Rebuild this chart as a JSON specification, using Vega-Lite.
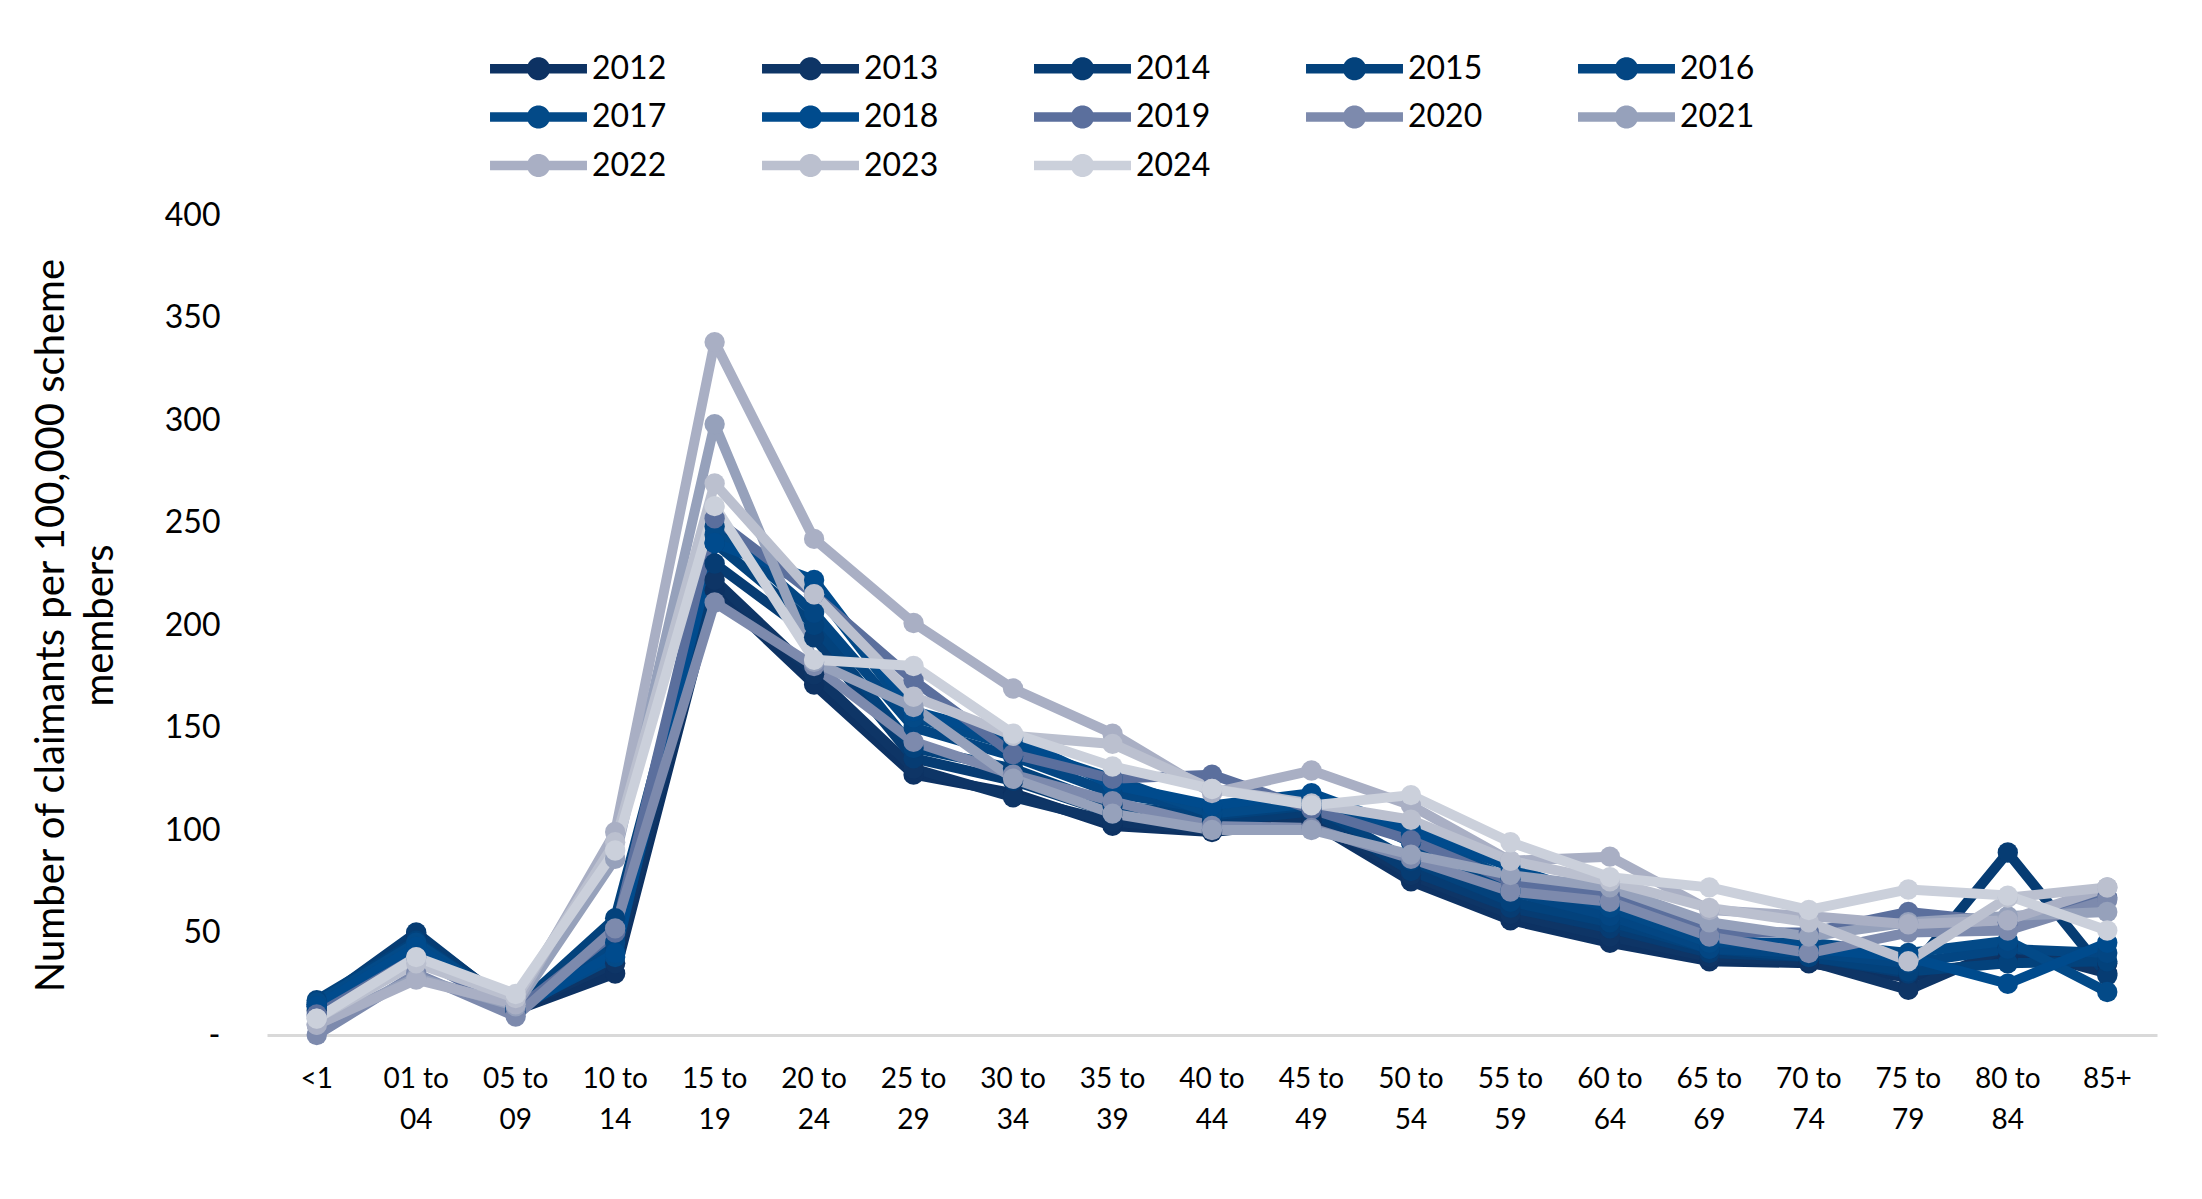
{
  "$schema": "https://vega.github.io/schema/vega-lite/v6.json",
  "width": 1890,
  "height": 820,
  "autosize": {"type": "none"},
  "padding": {"left": 267, "top": 215, "right": 45, "bottom": 164},
  "config": {"view": {"stroke": null}, "font": "Lato"},
  "data": {
    "values": [
      {"year": "2012", "age": "<1", "v": 12}, {"year": "2012", "age": "01 to 04", "v": 48}, {"year": "2012", "age": "05 to 09", "v": 12}, {"year": "2012", "age": "10 to 14", "v": 30}, {"year": "2012", "age": "15 to 19", "v": 217}, {"year": "2012", "age": "20 to 24", "v": 171}, {"year": "2012", "age": "25 to 29", "v": 127}, {"year": "2012", "age": "30 to 34", "v": 118}, {"year": "2012", "age": "35 to 39", "v": 102}, {"year": "2012", "age": "40 to 44", "v": 99}, {"year": "2012", "age": "45 to 49", "v": 104}, {"year": "2012", "age": "50 to 54", "v": 75}, {"year": "2012", "age": "55 to 59", "v": 56}, {"year": "2012", "age": "60 to 64", "v": 45}, {"year": "2012", "age": "65 to 69", "v": 36}, {"year": "2012", "age": "70 to 74", "v": 35}, {"year": "2012", "age": "75 to 79", "v": 28}, {"year": "2012", "age": "80 to 84", "v": 38}, {"year": "2012", "age": "85+", "v": 35},
      {"year": "2013", "age": "<1", "v": 14}, {"year": "2013", "age": "01 to 04", "v": 49}, {"year": "2013", "age": "05 to 09", "v": 13}, {"year": "2013", "age": "10 to 14", "v": 35}, {"year": "2013", "age": "15 to 19", "v": 222}, {"year": "2013", "age": "20 to 24", "v": 176}, {"year": "2013", "age": "25 to 29", "v": 130}, {"year": "2013", "age": "30 to 34", "v": 116}, {"year": "2013", "age": "35 to 39", "v": 104}, {"year": "2013", "age": "40 to 44", "v": 100}, {"year": "2013", "age": "45 to 49", "v": 106}, {"year": "2013", "age": "50 to 54", "v": 78}, {"year": "2013", "age": "55 to 59", "v": 59}, {"year": "2013", "age": "60 to 64", "v": 48}, {"year": "2013", "age": "65 to 69", "v": 38}, {"year": "2013", "age": "70 to 74", "v": 36}, {"year": "2013", "age": "75 to 79", "v": 22}, {"year": "2013", "age": "80 to 84", "v": 43}, {"year": "2013", "age": "85+", "v": 30},
      {"year": "2014", "age": "<1", "v": 15}, {"year": "2014", "age": "01 to 04", "v": 50}, {"year": "2014", "age": "05 to 09", "v": 12}, {"year": "2014", "age": "10 to 14", "v": 41}, {"year": "2014", "age": "15 to 19", "v": 230}, {"year": "2014", "age": "20 to 24", "v": 194}, {"year": "2014", "age": "25 to 29", "v": 135}, {"year": "2014", "age": "30 to 34", "v": 124}, {"year": "2014", "age": "35 to 39", "v": 108}, {"year": "2014", "age": "40 to 44", "v": 104}, {"year": "2014", "age": "45 to 49", "v": 109}, {"year": "2014", "age": "50 to 54", "v": 80}, {"year": "2014", "age": "55 to 59", "v": 62}, {"year": "2014", "age": "60 to 64", "v": 52}, {"year": "2014", "age": "65 to 69", "v": 40}, {"year": "2014", "age": "70 to 74", "v": 38}, {"year": "2014", "age": "75 to 79", "v": 30}, {"year": "2014", "age": "80 to 84", "v": 89}, {"year": "2014", "age": "85+", "v": 29},
      {"year": "2015", "age": "<1", "v": 17}, {"year": "2015", "age": "01 to 04", "v": 46}, {"year": "2015", "age": "05 to 09", "v": 13}, {"year": "2015", "age": "10 to 14", "v": 57}, {"year": "2015", "age": "15 to 19", "v": 240}, {"year": "2015", "age": "20 to 24", "v": 200}, {"year": "2015", "age": "25 to 29", "v": 140}, {"year": "2015", "age": "30 to 34", "v": 130}, {"year": "2015", "age": "35 to 39", "v": 112}, {"year": "2015", "age": "40 to 44", "v": 107}, {"year": "2015", "age": "45 to 49", "v": 112}, {"year": "2015", "age": "50 to 54", "v": 85}, {"year": "2015", "age": "55 to 59", "v": 65}, {"year": "2015", "age": "60 to 64", "v": 55}, {"year": "2015", "age": "65 to 69", "v": 42}, {"year": "2015", "age": "70 to 74", "v": 38}, {"year": "2015", "age": "75 to 79", "v": 31}, {"year": "2015", "age": "80 to 84", "v": 35}, {"year": "2015", "age": "85+", "v": 36},
      {"year": "2016", "age": "<1", "v": 15}, {"year": "2016", "age": "01 to 04", "v": 44}, {"year": "2016", "age": "05 to 09", "v": 12}, {"year": "2016", "age": "10 to 14", "v": 45}, {"year": "2016", "age": "15 to 19", "v": 248}, {"year": "2016", "age": "20 to 24", "v": 206}, {"year": "2016", "age": "25 to 29", "v": 150}, {"year": "2016", "age": "30 to 34", "v": 136}, {"year": "2016", "age": "35 to 39", "v": 118}, {"year": "2016", "age": "40 to 44", "v": 110}, {"year": "2016", "age": "45 to 49", "v": 116}, {"year": "2016", "age": "50 to 54", "v": 94}, {"year": "2016", "age": "55 to 59", "v": 70}, {"year": "2016", "age": "60 to 64", "v": 58}, {"year": "2016", "age": "65 to 69", "v": 42}, {"year": "2016", "age": "70 to 74", "v": 40}, {"year": "2016", "age": "75 to 79", "v": 35}, {"year": "2016", "age": "80 to 84", "v": 42}, {"year": "2016", "age": "85+", "v": 40},
      {"year": "2017", "age": "<1", "v": 16}, {"year": "2017", "age": "01 to 04", "v": 45}, {"year": "2017", "age": "05 to 09", "v": 13}, {"year": "2017", "age": "10 to 14", "v": 38}, {"year": "2017", "age": "15 to 19", "v": 244}, {"year": "2017", "age": "20 to 24", "v": 218}, {"year": "2017", "age": "25 to 29", "v": 155}, {"year": "2017", "age": "30 to 34", "v": 141}, {"year": "2017", "age": "35 to 39", "v": 125}, {"year": "2017", "age": "40 to 44", "v": 108}, {"year": "2017", "age": "45 to 49", "v": 113}, {"year": "2017", "age": "50 to 54", "v": 98}, {"year": "2017", "age": "55 to 59", "v": 76}, {"year": "2017", "age": "60 to 64", "v": 62}, {"year": "2017", "age": "65 to 69", "v": 45}, {"year": "2017", "age": "70 to 74", "v": 45}, {"year": "2017", "age": "75 to 79", "v": 40}, {"year": "2017", "age": "80 to 84", "v": 46}, {"year": "2017", "age": "85+", "v": 21},
      {"year": "2018", "age": "<1", "v": 14}, {"year": "2018", "age": "01 to 04", "v": 43}, {"year": "2018", "age": "05 to 09", "v": 12}, {"year": "2018", "age": "10 to 14", "v": 40}, {"year": "2018", "age": "15 to 19", "v": 240}, {"year": "2018", "age": "20 to 24", "v": 222}, {"year": "2018", "age": "25 to 29", "v": 158}, {"year": "2018", "age": "30 to 34", "v": 145}, {"year": "2018", "age": "35 to 39", "v": 122}, {"year": "2018", "age": "40 to 44", "v": 112}, {"year": "2018", "age": "45 to 49", "v": 118}, {"year": "2018", "age": "50 to 54", "v": 100}, {"year": "2018", "age": "55 to 59", "v": 82}, {"year": "2018", "age": "60 to 64", "v": 65}, {"year": "2018", "age": "65 to 69", "v": 48}, {"year": "2018", "age": "70 to 74", "v": 42}, {"year": "2018", "age": "75 to 79", "v": 38}, {"year": "2018", "age": "80 to 84", "v": 25}, {"year": "2018", "age": "85+", "v": 45},
      {"year": "2019", "age": "<1", "v": 10}, {"year": "2019", "age": "01 to 04", "v": 38}, {"year": "2019", "age": "05 to 09", "v": 12}, {"year": "2019", "age": "10 to 14", "v": 50}, {"year": "2019", "age": "15 to 19", "v": 252}, {"year": "2019", "age": "20 to 24", "v": 215}, {"year": "2019", "age": "25 to 29", "v": 173}, {"year": "2019", "age": "30 to 34", "v": 137}, {"year": "2019", "age": "35 to 39", "v": 125}, {"year": "2019", "age": "40 to 44", "v": 127}, {"year": "2019", "age": "45 to 49", "v": 110}, {"year": "2019", "age": "50 to 54", "v": 95}, {"year": "2019", "age": "55 to 59", "v": 75}, {"year": "2019", "age": "60 to 64", "v": 68}, {"year": "2019", "age": "65 to 69", "v": 50}, {"year": "2019", "age": "70 to 74", "v": 50}, {"year": "2019", "age": "75 to 79", "v": 60}, {"year": "2019", "age": "80 to 84", "v": 55}, {"year": "2019", "age": "85+", "v": 67},
      {"year": "2020", "age": "<1", "v": 0}, {"year": "2020", "age": "01 to 04", "v": 30}, {"year": "2020", "age": "05 to 09", "v": 9}, {"year": "2020", "age": "10 to 14", "v": 52}, {"year": "2020", "age": "15 to 19", "v": 211}, {"year": "2020", "age": "20 to 24", "v": 180}, {"year": "2020", "age": "25 to 29", "v": 143}, {"year": "2020", "age": "30 to 34", "v": 127}, {"year": "2020", "age": "35 to 39", "v": 114}, {"year": "2020", "age": "40 to 44", "v": 102}, {"year": "2020", "age": "45 to 49", "v": 101}, {"year": "2020", "age": "50 to 54", "v": 86}, {"year": "2020", "age": "55 to 59", "v": 70}, {"year": "2020", "age": "60 to 64", "v": 65}, {"year": "2020", "age": "65 to 69", "v": 48}, {"year": "2020", "age": "70 to 74", "v": 40}, {"year": "2020", "age": "75 to 79", "v": 50}, {"year": "2020", "age": "80 to 84", "v": 51}, {"year": "2020", "age": "85+", "v": 66},
      {"year": "2021", "age": "<1", "v": 5}, {"year": "2021", "age": "01 to 04", "v": 28}, {"year": "2021", "age": "05 to 09", "v": 14}, {"year": "2021", "age": "10 to 14", "v": 86}, {"year": "2021", "age": "15 to 19", "v": 298}, {"year": "2021", "age": "20 to 24", "v": 182}, {"year": "2021", "age": "25 to 29", "v": 160}, {"year": "2021", "age": "30 to 34", "v": 125}, {"year": "2021", "age": "35 to 39", "v": 108}, {"year": "2021", "age": "40 to 44", "v": 100}, {"year": "2021", "age": "45 to 49", "v": 100}, {"year": "2021", "age": "50 to 54", "v": 88}, {"year": "2021", "age": "55 to 59", "v": 78}, {"year": "2021", "age": "60 to 64", "v": 72}, {"year": "2021", "age": "65 to 69", "v": 55}, {"year": "2021", "age": "70 to 74", "v": 48}, {"year": "2021", "age": "75 to 79", "v": 55}, {"year": "2021", "age": "80 to 84", "v": 58}, {"year": "2021", "age": "85+", "v": 60},
      {"year": "2022", "age": "<1", "v": 5}, {"year": "2022", "age": "01 to 04", "v": 27}, {"year": "2022", "age": "05 to 09", "v": 15}, {"year": "2022", "age": "10 to 14", "v": 99}, {"year": "2022", "age": "15 to 19", "v": 338}, {"year": "2022", "age": "20 to 24", "v": 242}, {"year": "2022", "age": "25 to 29", "v": 201}, {"year": "2022", "age": "30 to 34", "v": 169}, {"year": "2022", "age": "35 to 39", "v": 147}, {"year": "2022", "age": "40 to 44", "v": 118}, {"year": "2022", "age": "45 to 49", "v": 129}, {"year": "2022", "age": "50 to 54", "v": 112}, {"year": "2022", "age": "55 to 59", "v": 85}, {"year": "2022", "age": "60 to 64", "v": 87}, {"year": "2022", "age": "65 to 69", "v": 61}, {"year": "2022", "age": "70 to 74", "v": 58}, {"year": "2022", "age": "75 to 79", "v": 54}, {"year": "2022", "age": "80 to 84", "v": 56}, {"year": "2022", "age": "85+", "v": 72},
      {"year": "2023", "age": "<1", "v": 8}, {"year": "2023", "age": "01 to 04", "v": 35}, {"year": "2023", "age": "05 to 09", "v": 18}, {"year": "2023", "age": "10 to 14", "v": 94}, {"year": "2023", "age": "15 to 19", "v": 269}, {"year": "2023", "age": "20 to 24", "v": 215}, {"year": "2023", "age": "25 to 29", "v": 165}, {"year": "2023", "age": "30 to 34", "v": 146}, {"year": "2023", "age": "35 to 39", "v": 142}, {"year": "2023", "age": "40 to 44", "v": 120}, {"year": "2023", "age": "45 to 49", "v": 113}, {"year": "2023", "age": "50 to 54", "v": 105}, {"year": "2023", "age": "55 to 59", "v": 85}, {"year": "2023", "age": "60 to 64", "v": 75}, {"year": "2023", "age": "65 to 69", "v": 62}, {"year": "2023", "age": "70 to 74", "v": 55}, {"year": "2023", "age": "75 to 79", "v": 36}, {"year": "2023", "age": "80 to 84", "v": 67}, {"year": "2023", "age": "85+", "v": 72},
      {"year": "2024", "age": "<1", "v": 8}, {"year": "2024", "age": "01 to 04", "v": 38}, {"year": "2024", "age": "05 to 09", "v": 20}, {"year": "2024", "age": "10 to 14", "v": 90}, {"year": "2024", "age": "15 to 19", "v": 258}, {"year": "2024", "age": "20 to 24", "v": 183}, {"year": "2024", "age": "25 to 29", "v": 180}, {"year": "2024", "age": "30 to 34", "v": 147}, {"year": "2024", "age": "35 to 39", "v": 131}, {"year": "2024", "age": "40 to 44", "v": 120}, {"year": "2024", "age": "45 to 49", "v": 112}, {"year": "2024", "age": "50 to 54", "v": 117}, {"year": "2024", "age": "55 to 59", "v": 94}, {"year": "2024", "age": "60 to 64", "v": 77}, {"year": "2024", "age": "65 to 69", "v": 72}, {"year": "2024", "age": "70 to 74", "v": 61}, {"year": "2024", "age": "75 to 79", "v": 71}, {"year": "2024", "age": "80 to 84", "v": 68}, {"year": "2024", "age": "85+", "v": 51}
    ]
  },
  "encoding": {
    "x": {
      "field": "age",
      "type": "nominal",
      "sort": null,
      "scale": {"type": "band", "paddingInner": 0, "paddingOuter": 0},
      "axis": {
        "title": null,
        "labelAngle": 0,
        "labelFont": "Lato",
        "labelFontSize": 28,
        "labelColor": "#000000",
        "labelLineHeight": 41,
        "labelPadding": 30,
        "labelExpr": "length(split(datum.label, ' to ')) > 1 ? [split(datum.label, ' to ')[0] + ' to', split(datum.label, ' to ')[1]] : datum.label",
        "ticks": false,
        "grid": false,
        "domainColor": "#d9d9d9",
        "domainWidth": 3
      }
    },
    "y": {
      "field": "v",
      "type": "quantitative",
      "scale": {"domain": [0, 400], "nice": false},
      "axis": {
        "title": ["Number of claimants per 100,000 scheme", "members"],
        "titleFont": "Lato",
        "titleFontSize": 40,
        "titleFontWeight": "normal",
        "titleColor": "#000000",
        "titleLineHeight": 49,
        "titlePadding": 44,
        "values": [0, 50, 100, 150, 200, 250, 300, 350, 400],
        "labelExpr": "datum.value == 0 ? '-' : datum.label",
        "labelFont": "Lato",
        "labelFontSize": 32,
        "labelColor": "#000000",
        "labelPadding": 47,
        "ticks": false,
        "grid": false,
        "domain": false
      }
    },
    "color": {
      "field": "year",
      "type": "nominal",
      "scale": {
        "domain": ["2012", "2013", "2014", "2015", "2016", "2017", "2018", "2019", "2020", "2021", "2022", "2023", "2024"],
        "range": ["#0d3263", "#0e3566", "#063c73", "#03427c", "#034683", "#034a88", "#004b8d", "#5b6f9d", "#7d8aad", "#96a1bb", "#a9afc4", "#bbc0cf", "#cbd0db"]
      },
      "legend": {
        "title": null,
        "orient": "none",
        "legendX": 247,
        "legendY": -171,
        "direction": "horizontal",
        "columns": 5,
        "padding": 0,
        "symbolType": "M-2,-0.2L-0.436,-0.2A0.48,0.48 0 0 1 0.436,-0.2L2,-0.2L2,0.2L0.436,0.2A0.48,0.48 0 0 1 -0.436,0.2L-2,0.2Z",
        "symbolSize": 2350,
        "symbolStrokeWidth": 0,
        "symbolOpacity": 1,
        "labelFont": "Lato",
        "labelFontSize": 32,
        "labelColor": "#000000",
        "labelOffset": 29,
        "columnPadding": 95,
        "rowPadding": 7.5,
        "encode": {
          "symbols": {
            "update": {
              "fill": {"scale": "color", "field": "value"},
              "stroke": {"value": "transparent"}
            }
          }
        }
      }
    }
  },
  "layer": [
    {"mark": {"type": "line", "strokeWidth": 10, "strokeJoin": "round"}},
    {"mark": {"type": "circle", "size": 415, "opacity": 1}}
  ]
}
